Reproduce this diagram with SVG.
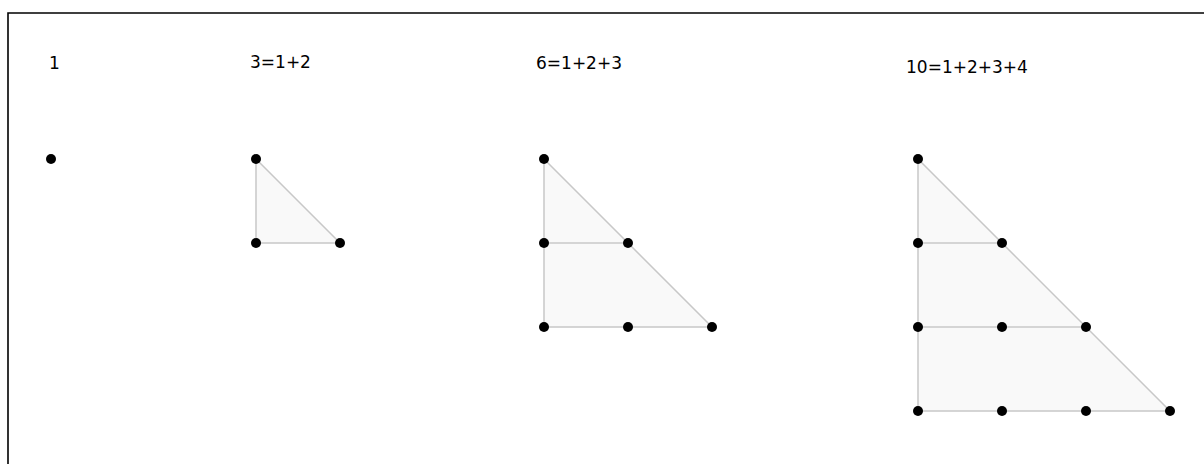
<svg xmlns="http://www.w3.org/2000/svg" width="1204" height="464" viewBox="0 0 1204 464">
<style>
.lbl{font-family:"DejaVu Sans",sans-serif;font-size:17px;fill:#000}
.tri{fill:#f9f9f9;stroke:#c8c8c8;stroke-width:1.5}
.rule{stroke:#c8c8c8;stroke-width:1.5;fill:none}
.dot{fill:#000}
</style>
<rect width="1204" height="464" fill="#fff"/>
<path d="M8,474 V13 H1214" fill="none" stroke="#000" stroke-width="1.6"/>
<g id="connectors">
<polygon class="tri" points="256,159 256,243 340,243"/>
<polygon class="tri" points="544,159 544,327 712,327"/>
<line class="rule" x1="544" y1="243" x2="628" y2="243"/>
<polygon class="tri" points="918,159 918,411 1170,411"/>
<line class="rule" x1="918" y1="243" x2="1002" y2="243"/>
<line class="rule" x1="918" y1="327" x2="1086" y2="327"/>
</g>
<g id="n1">
<text class="lbl" x="49" y="69">1</text>
<circle class="dot" cx="51" cy="159" r="5"/>
</g>
<g id="n3">
<text class="lbl" x="250" y="68">3=1+2</text>
<circle class="dot" cx="256" cy="159" r="5"/>
<circle class="dot" cx="256" cy="243" r="5"/>
<circle class="dot" cx="340" cy="243" r="5"/>
</g>
<g id="n6">
<text class="lbl" x="536" y="69">6=1+2+3</text>
<circle class="dot" cx="544" cy="159" r="5"/>
<circle class="dot" cx="544" cy="243" r="5"/>
<circle class="dot" cx="628" cy="243" r="5"/>
<circle class="dot" cx="544" cy="327" r="5"/>
<circle class="dot" cx="628" cy="327" r="5"/>
<circle class="dot" cx="712" cy="327" r="5"/>
</g>
<g id="n10">
<text class="lbl" x="906" y="73">10=1+2+3+4</text>
<circle class="dot" cx="918" cy="159" r="5"/>
<circle class="dot" cx="918" cy="243" r="5"/>
<circle class="dot" cx="1002" cy="243" r="5"/>
<circle class="dot" cx="918" cy="327" r="5"/>
<circle class="dot" cx="1002" cy="327" r="5"/>
<circle class="dot" cx="1086" cy="327" r="5"/>
<circle class="dot" cx="918" cy="411" r="5"/>
<circle class="dot" cx="1002" cy="411" r="5"/>
<circle class="dot" cx="1086" cy="411" r="5"/>
<circle class="dot" cx="1170" cy="411" r="5"/>
</g>
</svg>
